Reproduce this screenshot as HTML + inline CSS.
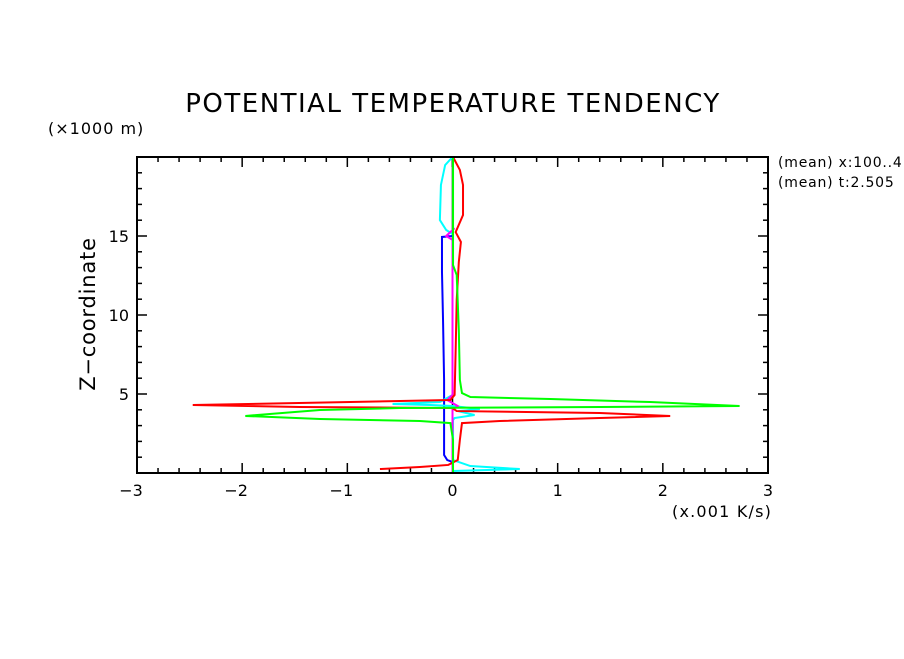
<!DOCTYPE html>
<html><head><meta charset="utf-8"><style>
body{margin:0;background:#fff;width:904px;height:654px;overflow:hidden}
svg text{font-family:"DejaVu Sans","Liberation Sans",sans-serif;fill:#000}
</style></head><body>
<svg id="chart" width="904" height="654" xmlns="http://www.w3.org/2000/svg">
<text x="453" y="112" font-size="26" letter-spacing="1.5" text-anchor="middle">POTENTIAL TEMPERATURE TENDENCY</text>
<text x="48" y="134" font-size="16" letter-spacing="1">(×1000 m)</text>
<text transform="translate(95,314) rotate(-90)" font-size="21" letter-spacing="0.8" text-anchor="middle">Z−coordinate</text>
<text x="672" y="517" font-size="16" letter-spacing="1.2">(x.001 K/s)</text>
<text x="778" y="167" font-size="14" letter-spacing="0.8">(mean) x:100..4</text>
<text x="778" y="187" font-size="14" letter-spacing="0.8">(mean) t:2.505</text>
<g id="axes"></g>
<g id="series"></g>
<rect x="137" y="157" width="631" height="316" fill="none" stroke="#000" stroke-width="2"/>
</svg>
<script>
const xTicks=[-3,-2,-1,0,1,2,3];
const yTicks=[5,10,15];
const redX=[0.005,0.07,0.10,0.10,0.03,0.08,0.06,0.04,0.03,0.02,-0.02,-0.97,-2.47,-1.45,0.0,0.04,1.40,2.07,1.40,0.45,0.09,0.07,0.05,-0.04,-0.31,-0.69];
const redZ=[20,19.18,18.23,16.33,15.25,14.62,13.35,10.95,7.78,4.94,4.62,4.49,4.30,4.18,4.11,3.92,3.80,3.61,3.48,3.29,3.16,2.09,0.82,0.51,0.38,0.25];
const greenX=[0.005,0.005,0.04,0.06,0.07,0.09,0.17,0.93,1.88,2.73,1.40,-0.50,-1.26,-1.97,-1.26,-0.31,-0.02,0.005,0.005];
const greenZ=[20,13.16,12.53,9.05,5.89,5.06,4.81,4.68,4.49,4.24,4.18,4.11,3.99,3.61,3.42,3.29,3.16,2.09,0];
const blueX=[0,-0.10,-0.10,-0.09,-0.08,-0.08,-0.05,0];
const blueZ=[15.0,14.94,12.72,9.68,5.89,1.14,0.82,0.70];
const cyanTopX=[0,-0.07,-0.11,-0.12,-0.06,0];
const cyanTopZ=[20,19.49,18.23,16.01,15.38,15.13];
const cyanLowX=[0,-0.12,-0.57,-0.21,0,0.26,0.05,0.21,0.02,0.005,0.005,0.17,0.64,0];
const cyanLowZ=[4.94,4.49,4.37,4.30,4.24,4.05,3.92,3.67,3.48,3.35,0.82,0.44,0.25,0.13];
const cyanBaseX=[-1.14,1.50];
const cyanBaseZ=[0,0];
const magentaX=[0.02,-0.06,0,0,-0.05,0.05,0,0];
const magentaZ=[15.5,15.0,14.75,4.94,4.62,4.24,3.99,0];
const pinkX=[1.4,2.35];
const pinkZ=[0,0];
const blackX=[0,0];
const blackZ=[0,20];

const NS="http://www.w3.org/2000/svg";
const X0=137,X1=768,Y0=473,Y1=157;
const sx=v=>X0+(v+3)/6*(X1-X0);
const sy=v=>Y0-v/20*(Y0-Y1);
const axes=document.getElementById('axes');
function ln(x1,y1,x2,y2,w){const l=document.createElementNS(NS,'line');
l.setAttribute('x1',x1);l.setAttribute('y1',y1);l.setAttribute('x2',x2);l.setAttribute('y2',y2);
l.setAttribute('stroke','#000');l.setAttribute('stroke-width',w);


axes.appendChild(l);}
for(let i=0;i<=30;i++){const v=-3+i*0.2;const x=sx(v);const major=i%5===0;const len=major?10:5;
ln(x,Y0,x,Y0-len,1.5);ln(x,Y1,x,Y1+len,1.5);}
for(let i=1;i<20;i++){const y=sy(i);const major=i%5===0;const len=major?10:5;
ln(X0,y,X0+len,y,1.5);ln(X1,y,X1-len,y,1.5);}
xTicks.forEach(v=>{const t=document.createElementNS(NS,'text');
t.setAttribute('x',sx(v)-(v<0?6:0));t.setAttribute('y',496);t.setAttribute('font-size','16');t.setAttribute('text-anchor','middle');
t.textContent=(v<0?'−':'')+Math.abs(v);


axes.appendChild(t);});
yTicks.forEach(v=>{const t=document.createElementNS(NS,'text');
t.setAttribute('x',129);t.setAttribute('y',sy(v)+6);t.setAttribute('font-size','16');t.setAttribute('text-anchor','end');
t.textContent=v;


axes.appendChild(t);});
const series=document.getElementById('series');
function draw(xs,zs,color,name,w){const p=document.createElementNS(NS,'polyline');
p.setAttribute('points',xs.map((x,i)=>sx(x)+','+sy(zs[i])).join(' '));
p.setAttribute('fill','none');p.setAttribute('stroke',color);p.setAttribute('stroke-width',w||2);


series.appendChild(p);}
draw(blackX,blackZ,'#000','zero-line',1.5);
draw(pinkX,pinkZ,'#ffc0cb','pink-series',2);
draw(cyanBaseX,cyanBaseZ,'#00ffff','cyan-base-series',2);
draw(blueX,blueZ,'#0000ff','blue-series',2);
draw(cyanTopX,cyanTopZ,'#00ffff','cyan-upper-series',2);
draw(cyanLowX,cyanLowZ,'#00ffff','cyan-lower-series',2);
draw(magentaX,magentaZ,'#ff00ff','magenta-series',2);
draw(redX,redZ,'#ff0000','red-series',2);
draw(greenX,greenZ,'#00ff00','green-series',2);
</script>
</body></html>
